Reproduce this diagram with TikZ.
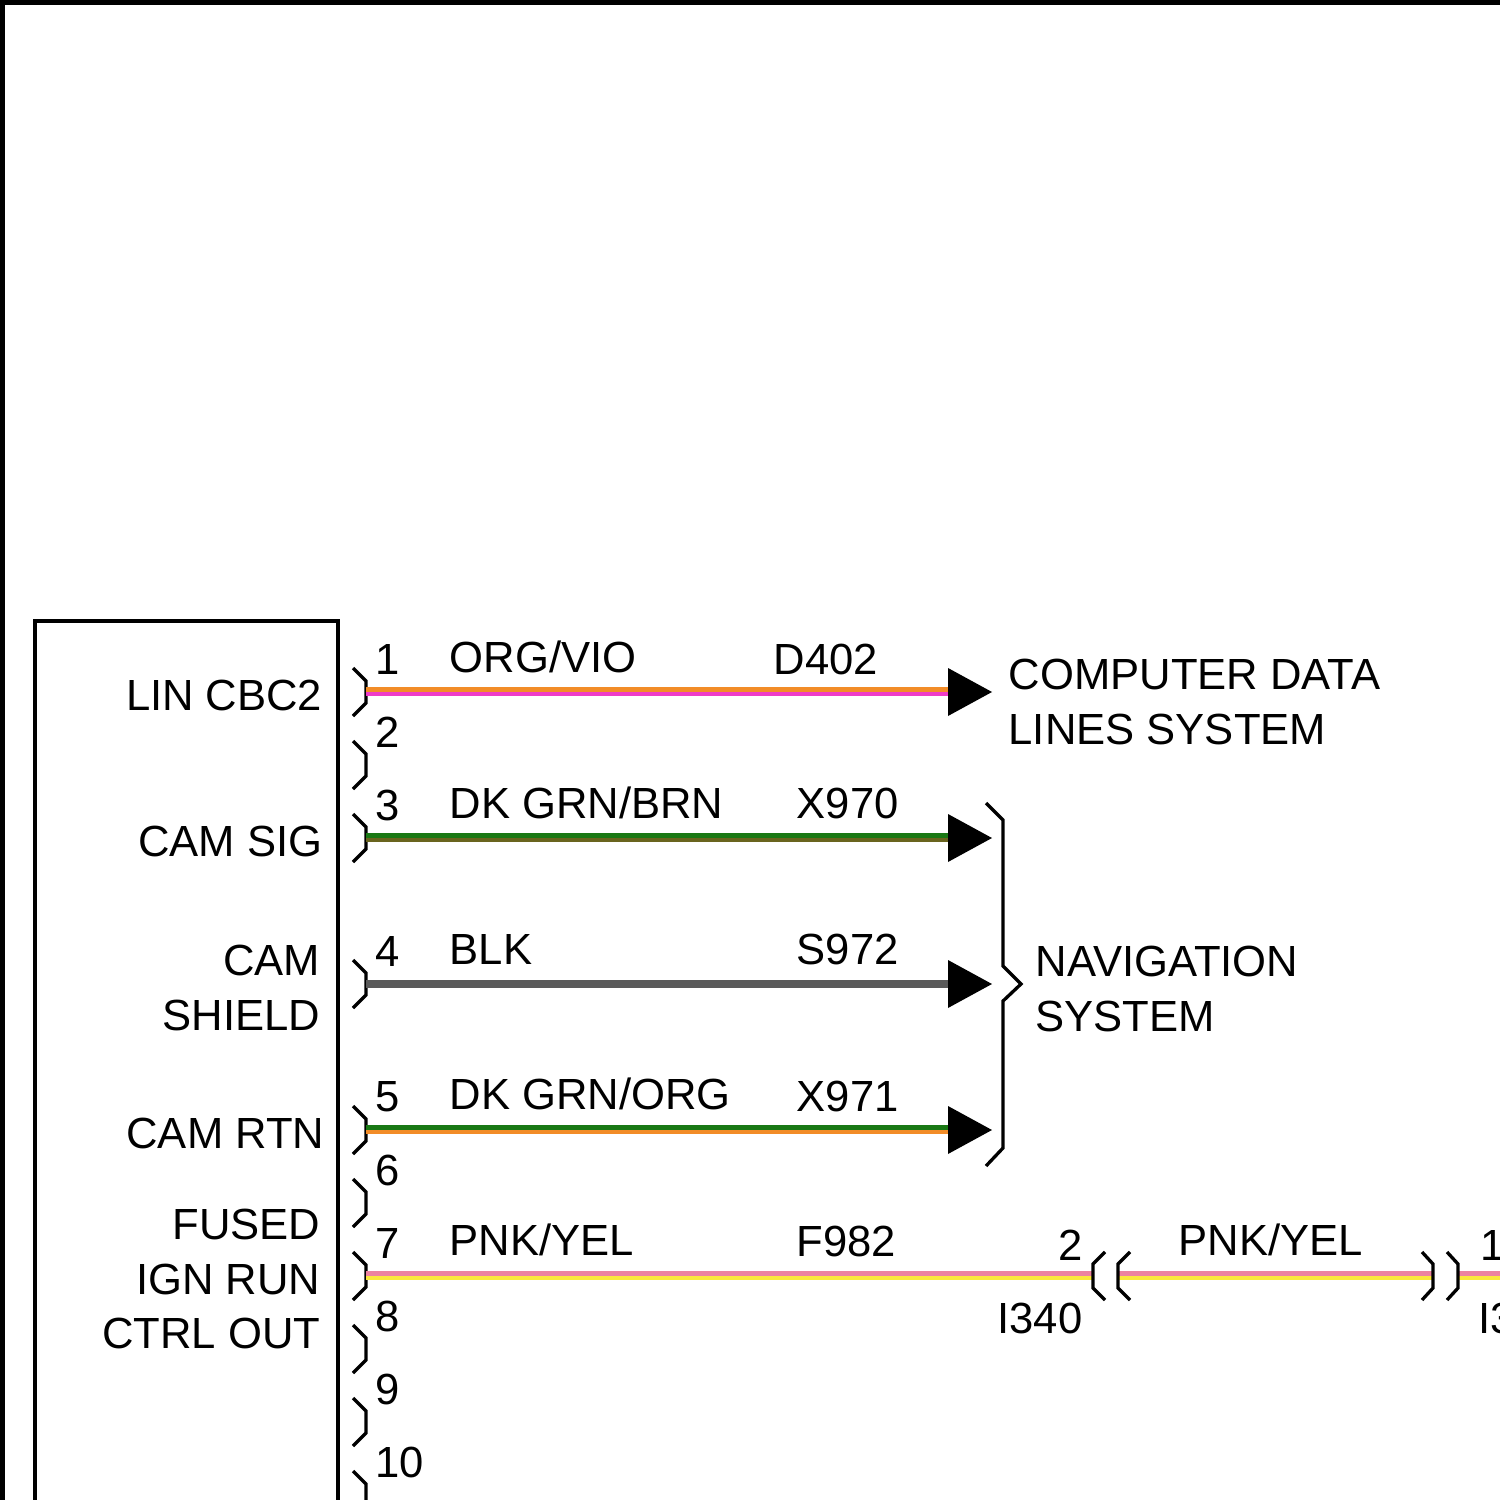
\documentclass[tikz,border=0pt]{standalone}
\usepackage{fontspec}
\setmainfont{Liberation Sans}
\usepackage{xcolor}
\usetikzlibrary{positioning, calc}
\definecolor{wireorg}{RGB}{242,140,40}
\definecolor{wirevio}{RGB}{238,60,200}
\definecolor{wiregrn}{RGB}{25,120,20}
\definecolor{wirebrn}{RGB}{105,100,30}
\definecolor{wireblk}{RGB}{90,90,90}
\definecolor{wirepnk}{RGB}{236,130,160}
\definecolor{wireyel}{RGB}{250,232,60}

\tikzset{
	lbl/.style={inner sep=0pt, font=\fontsize{12.4}{15.4}\selectfont},
	pinbox/.style={line width=0.033cm},
}
\newcommand\twowire[4]{%
	\draw[#3, line width=0.05cm, transform canvas={yshift=0.024cm}] (#1) -- (#2);
	\draw[#4, line width=0.045cm, transform canvas={yshift=-0.022cm}] (#1) -- (#2);}

\begin{document}
\begin{tikzpicture}[x=0.01cm, y=-0.01cm]
		\clip (0,0) rectangle (1500,1500);
		\draw[line width=0.05cm] (2.5,1600) -- (2.5,2.5) -- (1600,2.5);
		\draw[pinbox] (35,1600) -- (35,621) -- (338,621) -- (338,1600);
		
		\foreach \n/\y in {1/692,2/765,3/838,4/984,5/1130,6/1203,7/1276,8/1349,9/1422,10/1495}{
			\coordinate (p\n) at (366,\y);
			\draw[pinbox] (353,\y-24) -- (366,\y-11) -- (366,\y+11) -- (353,\y+24);
			\node[lbl, anchor=west] (n\n) at (375,\y-33) {\n};
		}
		
		\node[lbl, anchor=east] (lin) at (323,695) {LIN CBC2};
		\node[lbl, anchor=east] (camsig) at (323,841) {CAM SIG};
		\node[lbl, anchor=east, align=right] (camsh) at (321,988) {CAM\\SHIELD};
		\node[lbl, anchor=east] (camrtn) at (325,1133) {CAM RTN};
		\node[lbl, anchor=east, align=right] (fused) at (321,1279) {FUSED\\IGN RUN\\CTRL OUT};
		
		\foreach \n/\y in {1/692,3/838,4/984,5/1130}{
			\coordinate (a\n) at (948,\y);
			\fill (a\n) ++(0,-24) -- ++(44,24) -- ++(-44,24) -- cycle;
		}
		
		\twowire{p1}{a1}{wireorg}{wirevio}
		\twowire{p3}{a3}{wiregrn}{wirebrn}
		\draw[wireblk, line width=0.08cm] (p4) -- (a4);
		\twowire{p5}{a5}{wiregrn}{wireorg}
		
		\node[lbl, anchor=west] (w1) at (449,657) {ORG/VIO};
		\node[lbl, anchor=west] (c1) at (773,659) {D402};
		\node[lbl, anchor=west] (w3) at (449,803) {DK GRN/BRN};
		\node[lbl, anchor=west] (c3) at (796,803) {X970};
		\node[lbl, anchor=west] (w4) at (449,949) {BLK};
		\node[lbl, anchor=west] (c4) at (796,949) {S972};
		\node[lbl, anchor=west] (w5) at (449,1094) {DK GRN/ORG};
		\node[lbl, anchor=west] (c5) at (796,1096) {X971};
		\node[lbl, anchor=west] (w7) at (449,1240) {PNK/YEL};
		\node[lbl, anchor=west] (c7) at (796,1241) {F982};
		
		\node[lbl, anchor=west, align=left] (cdl) at (1008,702) {COMPUTER DATA\\LINES SYSTEM};
		\draw[pinbox] (986,803) -- (1003,820) -- (1003,966) -- (1021,984) -- (1003,1001) -- (1003,1148) -- (986,1166);
		\node[lbl, anchor=west, align=left] (nav) at (1035,989) {NAVIGATION\\SYSTEM};
		
		\coordinate (i1) at (1093,1276);
		\coordinate (i2) at (1118,1276);
		\coordinate (i3) at (1433,1276);
		\coordinate (i4) at (1458,1276);
		\coordinate (e7) at (1520,1276);
		\twowire{p7}{i1}{wirepnk}{wireyel}
		\twowire{i2}{i3}{wirepnk}{wireyel}
		\twowire{i4}{e7}{wirepnk}{wireyel}
		\foreach \x in {1093,1118}
			\draw[pinbox] (\x+12,1252) -- (\x,1264) -- (\x,1288) -- (\x+12,1300);
		\foreach \x in {1433,1458}
			\draw[pinbox] (\x-11,1252) -- (\x,1264) -- (\x,1288) -- (\x-11,1300);
		
		\node[lbl, anchor=east] (k2) at (1083,1245) {2};
		\node[lbl, anchor=east] (conl) at (1083,1318) {I340};
		\node[lbl, anchor=west] (w8) at (1178,1240) {PNK/YEL};
		\node[lbl, anchor=west] (k1) at (1480,1245) {1};
		\node[lbl, anchor=west] (conr) at (1478,1318) {I3};
\end{tikzpicture}
\end{document}
